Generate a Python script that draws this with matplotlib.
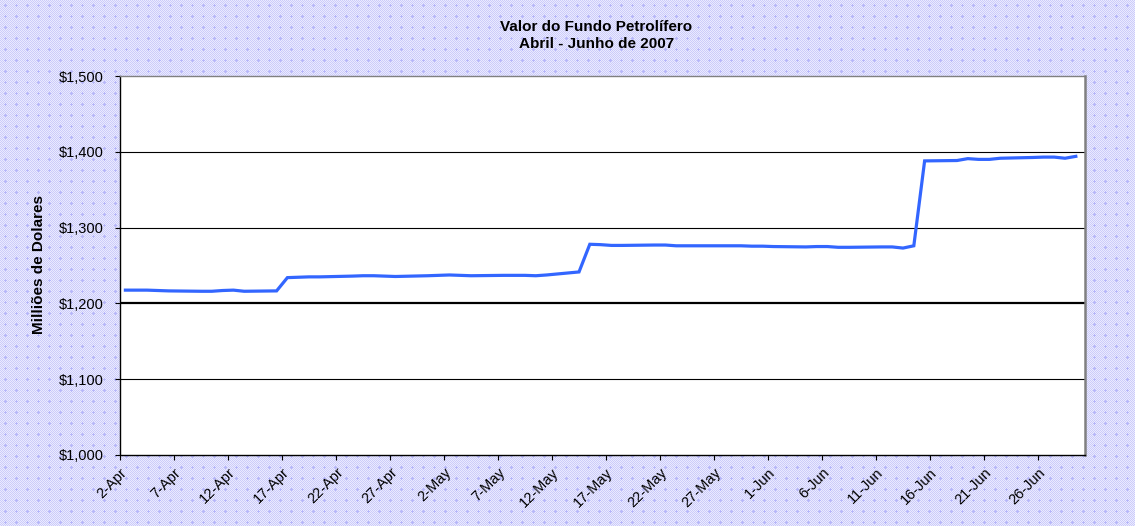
"""
Valor do Fundo Petrolífero, Abril - Junho de 2007 (line chart, Excel style).
"""
import numpy as np
import pandas as pd
import matplotlib
matplotlib.use("Agg")
import matplotlib.pyplot as plt
from matplotlib.ticker import FuncFormatter, MultipleLocator

plt.rcParams["font.family"] = ["Liberation Sans", "DejaVu Sans"]

# ── DATA ─────────────────────────────────────────────────────────
DATES = pd.bdate_range("2007-04-02", "2007-06-29")
VALUES = [
    # April
    1217.5, 1217.5, 1217.5, 1217.0, 1216.5,
    1216.0, 1216.0, 1217.0, 1217.5, 1216.0,
    1216.5, 1234.0, 1234.5, 1235.0, 1235.0,
    1236.0, 1236.5, 1236.5, 1236.0, 1235.5,
    1236.5,
    # May
    1237.0, 1237.5, 1237.0, 1236.5,
    1237.0, 1237.0, 1237.0, 1236.5, 1237.5,
    1241.5, 1278.0, 1277.5, 1276.5, 1276.5,
    1277.0, 1277.0, 1276.0, 1276.0, 1276.0,
    1276.0, 1276.0, 1275.5, 1275.5,
    # June
    1275.0,
    1274.5, 1275.0, 1275.0, 1274.0, 1274.0,
    1274.5, 1274.5, 1273.0, 1276.0, 1388.0,
    1388.5, 1391.0, 1390.0, 1390.0, 1391.5,
    1392.5, 1393.0, 1393.0, 1391.5, 1394.0,
]
TITLE = "Valor do Fundo Petrolífero\nAbril - Junho de 2007"
Y_LABEL = "Milliões de Dolares"
# ─────────────────────────────────────────────────────────────────

W, H = 1135, 526
fig = plt.figure(figsize=(W / 100, H / 100), dpi=100)

# patterned lavender background (fine check + small plus signs)
yy, xx = np.mgrid[0:H, 0:W]
bg = np.ones((H, W, 3))
check = ((xx + yy) % 2 == 0)
bg[check] = (0.80, 0.80, 0.98)
bg[~check] = (0.92, 0.92, 1.0)
px, py = (xx % 11), (yy % 11)
plus = ((px == 5) & (np.abs(py - 5) <= 1)) | ((py == 5) & (np.abs(px - 5) <= 1))
bg[plus] = (0.72, 0.72, 0.98)
bg_ax = fig.add_axes([0, 0, 1, 1], zorder=-1)
bg_ax.imshow(bg, aspect="auto", interpolation="nearest")
bg_ax.axis("off")

ax = fig.add_axes([120 / W, 1 - 455 / H, (1085 - 120) / W, (455 - 76) / H], zorder=1)
ax.set_facecolor("white")

x = DATES + pd.Timedelta(hours=12)
ax.plot(x, VALUES, color="#3366FF", linewidth=2.3, solid_joinstyle="miter", zorder=3)

# axes limits and ticks
start = pd.Timestamp("2007-04-02")
ax.set_xlim(start, start + pd.Timedelta(days=89.35))
ax.set_ylim(1000, 1500)
ax.yaxis.set_major_locator(MultipleLocator(100))
ax.yaxis.set_major_formatter(FuncFormatter(lambda v, p: f"${v:,.0f}"))

ticks = pd.date_range(start, "2007-06-30", freq="5D")
ax.set_xticks(ticks)
ax.set_xticklabels([f"{d.day}-{d.strftime('%b')}" for d in ticks],
                   rotation=45, ha="right", rotation_mode="anchor")
ax.tick_params(axis="both", labelsize=10.5, colors="black", length=3.6, width=0.8)
ax.tick_params(axis="y", pad=8)
ax.tick_params(axis="x", pad=4)

# gridlines
for v in range(1100, 1500, 100):
    ax.axhline(v, color="black", linewidth=1.6 if v == 1200 else 0.8, zorder=2)

for side in ("left", "bottom"):
    ax.spines[side].set_color("black")
    ax.spines[side].set_linewidth(1.0)
ax.spines["top"].set_color("#808080")
ax.spines["top"].set_linewidth(1.0)
ax.spines["right"].set_color("#808080")
ax.spines["right"].set_linewidth(1.8)

ax.set_ylabel(Y_LABEL, fontsize=11, fontweight="bold")
ax.yaxis.set_label_coords(-(120 - 46) / (1085 - 120), 1 - (265 - 76) / (455 - 76))
fig.text(0.5256, 1 - 35.5 / H, TITLE, ha="center", va="center",
         fontsize=11, fontweight="bold", linespacing=1.3)

fig.savefig("out.png", dpi=100)
